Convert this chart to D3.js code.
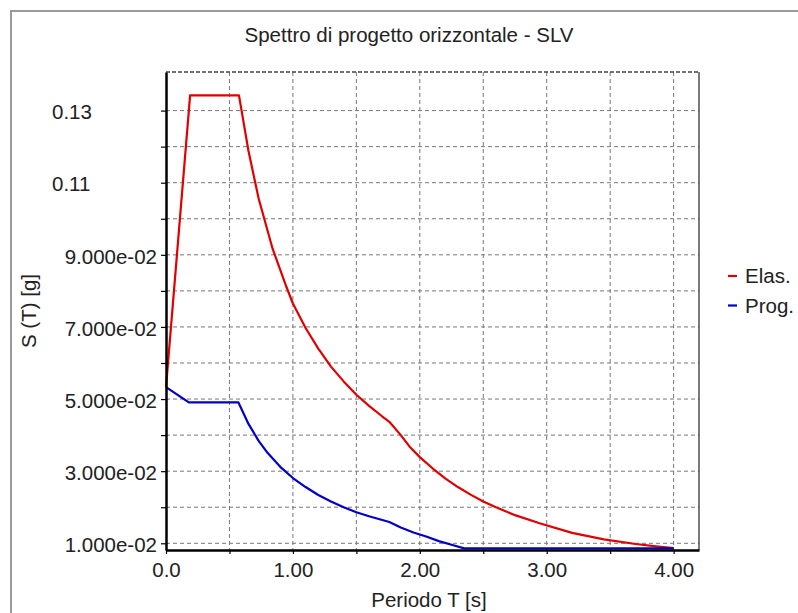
<!DOCTYPE html>
<html>
<head>
<meta charset="utf-8">
<script src="https://cdn.jsdelivr.net/npm/d3@7"></script>
<style>
  body { margin: 0; background: #fff; }
  svg { display: block; font-family: "Liberation Sans", Arial, sans-serif; }
  .grid line { stroke: #777; stroke-width: 1; stroke-dasharray: 4,3; }
  .axis text { font-size: 20.5px; fill: #222; }
  .axis .domain { stroke: #000; stroke-width: 2.5; }
  .axis .tick line { stroke: #000; stroke-width: 1.2; }
</style>
</head>
<body>
<svg id="chart" width="798" height="613"></svg>
<script>
// periods and spectral values
var periodsElas = [0, 0.19, 0.575, 0.65, 0.73, 0.84, 0.95, 1.0, 1.1, 1.2, 1.3, 1.4, 1.5, 1.6, 1.7, 1.76,
                   1.85, 1.92, 2.0, 2.1, 2.2, 2.3, 2.4, 2.5, 2.6, 2.75, 2.95, 3.2, 3.45, 3.7, 3.88, 4.0];
var valuesElas = [0.0533, 0.1342, 0.1342, 0.1188, 0.1056, 0.0917, 0.0810, 0.0765, 0.0697, 0.0640, 0.0590,
                  0.0549, 0.0512, 0.0481, 0.0453, 0.0437, 0.0400, 0.0368, 0.0339, 0.0308, 0.0280, 0.0256,
                  0.0235, 0.0216, 0.0200, 0.0178, 0.0155, 0.0129, 0.0111, 0.0098, 0.0091, 0.0087];

var periodsProg = [0, 0.18, 0.57, 0.65, 0.73, 0.80, 0.90, 1.0, 1.1, 1.2, 1.3, 1.4, 1.5, 1.6, 1.76,
                   1.85, 1.95, 2.05, 2.15, 2.25, 2.35, 4.0];
var valuesProg = [0.0533, 0.0491, 0.0491, 0.0431, 0.0384, 0.0351, 0.0312, 0.0281, 0.0256, 0.0234, 0.0216,
                  0.0200, 0.0186, 0.0175, 0.0159, 0.0144, 0.0130, 0.0119, 0.0106, 0.0096, 0.0086, 0.0086];

var yGridValues = [0.01, 0.02, 0.03, 0.04, 0.05, 0.06, 0.07, 0.08, 0.09, 0.10, 0.11, 0.12, 0.13];
var yLabelValues = [0.01, 0.03, 0.05, 0.07, 0.09, 0.11, 0.13];
var yLabelTexts = ["1.000e-02", "3.000e-02", "5.000e-02", "7.000e-02", "9.000e-02", "0.11", "0.13"];

var xGridValues = [0.5, 1.0, 1.5, 2.0, 2.5, 3.0, 3.5, 4.0];
var xLabelValues = [0, 1, 2, 3, 4];
var xLabelTexts = ["0.0", "1.00", "2.00", "3.00", "4.00"];

var seriesNames = ["Elas.", "Prog."];
var seriesColors = ["#e00000", "#0000c8"];

var svg = d3.select('#chart');
var plotL = 166, plotR = 699, plotT = 72, plotB = 550;

var x = d3.scaleLinear().domain([0, 4.2]).range([plotL, plotR]);
var y = d3.scaleLinear().domain([0.00814, 0.1407]).range([plotB, plotT]);

// outer frame
svg.append('path')
    .attr('d', 'M11,613 L11,11 L798,11')
    .attr('fill', 'none')
    .attr('stroke', '#9a9a9a')
    .attr('stroke-width', 2);

svg.append('text')
    .attr('x', 409).attr('y', 42)
    .attr('text-anchor', 'middle')
    .style('font-size', '20.5px').style('fill', '#222')
    .text('Spettro di progetto orizzontale - SLV');

// grid
var grid = svg.append('g').attr('class', 'grid');
grid.selectAll('.h').data(yGridValues).enter().append('line')
    .attr('x1', plotL).attr('x2', plotR)
    .attr('y1', function(d) { return y(d); })
    .attr('y2', function(d) { return y(d); });
grid.selectAll('.v').data(xGridValues).enter().append('line')
    .attr('x1', function(d) { return x(d); })
    .attr('x2', function(d) { return x(d); })
    .attr('y1', plotT).attr('y2', plotB);

// top and right borders of the plot area
svg.append('line')
    .attr('x1', plotL).attr('x2', plotR).attr('y1', plotT).attr('y2', plotT)
    .attr('stroke', '#444').attr('stroke-width', 1.5).attr('stroke-dasharray', '4,2');
svg.append('line')
    .attr('x1', plotR).attr('x2', plotR).attr('y1', plotT).attr('y2', plotB)
    .attr('stroke', '#333').attr('stroke-width', 1.3);

// curves
var line = d3.line()
    .x(function(d) { return x(d[0]); })
    .y(function(d) { return y(d[1]); });

var series = [
    d3.zip(periodsElas, valuesElas),
    d3.zip(periodsProg, valuesProg)
];
series.forEach(function(pts, i) {
    svg.append('path')
        .datum(pts)
        .attr('d', line)
        .attr('fill', 'none')
        .attr('stroke', seriesColors[i])
        .attr('stroke-width', 2.2)
        .attr('stroke-linejoin', 'round');
});

// axes
var yAxis = d3.axisLeft(y)
    .tickValues(yGridValues)
    .tickSize(5)
    .tickSizeOuter(0)
    .tickPadding(4)
    .tickFormat(function(d) {
        var k = yLabelValues.findIndex(function(v) { return Math.abs(v - d) < 1e-9; });
        return k < 0 ? '' : yLabelTexts[k];
    });
var gy = svg.append('g').attr('class', 'axis')
    .attr('transform', 'translate(' + plotL + ',0)')
    .call(yAxis);
gy.selectAll('text').attr('dy', '0.4em');
// the short labels sit further left in the original, not right aligned
gy.selectAll('text')
    .filter(function(d) { return d > 0.105; })
    .attr('text-anchor', 'start')
    .attr('x', 52 - plotL);

var xAxis = d3.axisBottom(x)
    .tickValues(xGridValues.concat([0]))
    .tickSize(4)
    .tickSizeOuter(0)
    .tickFormat(function(d) {
        var k = xLabelValues.indexOf(d);
        return k < 0 ? '' : xLabelTexts[k];
    });
var gx = svg.append('g').attr('class', 'axis')
    .attr('transform', 'translate(0,' + plotB + ')')
    .call(xAxis);
gx.selectAll('text').attr('y', 27).attr('dy', 0);

svg.append('text')
    .attr('x', 429).attr('y', 607)
    .attr('text-anchor', 'middle')
    .style('font-size', '20.5px').style('fill', '#222')
    .text('Periodo T [s]');

svg.append('text')
    .attr('transform', 'translate(35.5,311) rotate(-90)')
    .attr('text-anchor', 'middle')
    .style('font-size', '20.5px').style('fill', '#222')
    .text('S (T) [g]');

// legend
var legend = svg.append('g');
seriesNames.forEach(function(name, i) {
    var base = 283 + i * 29.5;
    legend.append('line')
        .attr('x1', 728).attr('x2', 737)
        .attr('y1', base - 7).attr('y2', base - 7)
        .attr('stroke', seriesColors[i]).attr('stroke-width', 2.2);
    legend.append('text')
        .attr('x', 745).attr('y', base)
        .style('font-size', '20.5px').style('fill', '#222')
        .text(name);
});
</script>
</body>
</html>
